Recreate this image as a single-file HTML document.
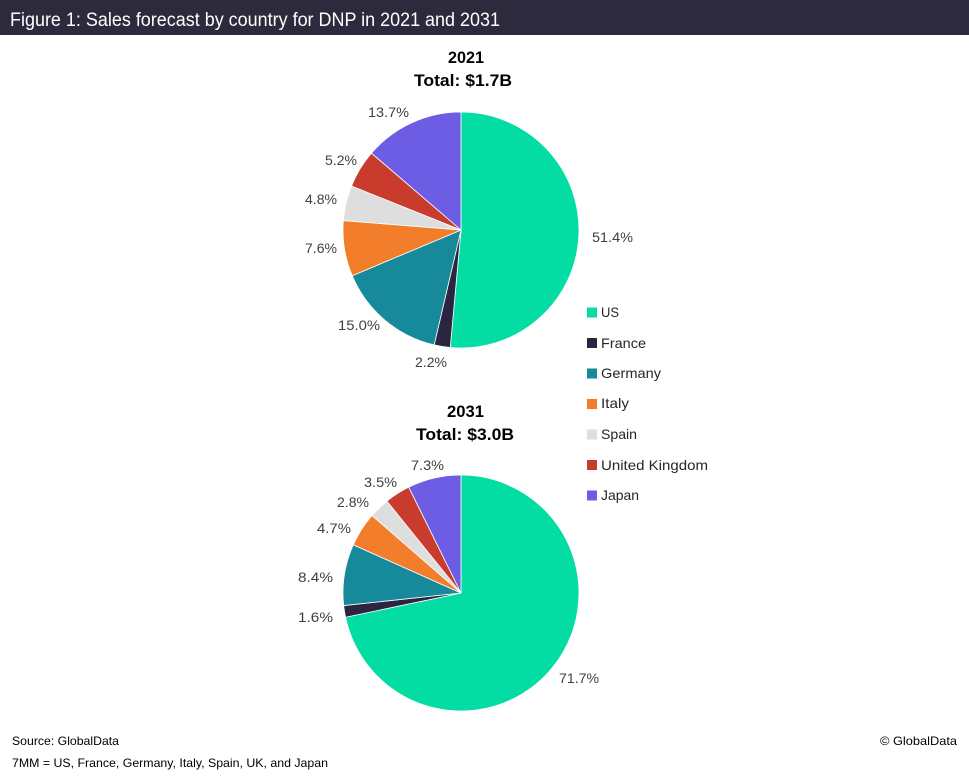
<!DOCTYPE html>
<html><head><meta charset="utf-8"><style>
html,body{margin:0;padding:0;background:#fff;}
svg{display:block;}
text{font-family:"Liberation Sans",sans-serif;}
</style></head><body>
<svg width="969" height="778" viewBox="0 0 969 778" xmlns="http://www.w3.org/2000/svg">
<rect x="0" y="0" width="969" height="778" fill="#fff"/>
<rect x="0" y="0" width="969" height="35" fill="#2E2A3E"/>
<text x="10" y="26" font-size="19" fill="#fff" textLength="490" lengthAdjust="spacingAndGlyphs">Figure 1: Sales forecast by country for DNP in 2021 and 2031</text>

<!-- 2021 titles -->
<text x="448" y="63" font-size="17" font-weight="bold" fill="#000" textLength="36" lengthAdjust="spacingAndGlyphs">2021</text>
<text x="414" y="86" font-size="17" font-weight="bold" fill="#000" textLength="98" lengthAdjust="spacingAndGlyphs">Total: $1.7B</text>

<!-- Pie 1 -->
<g stroke="#fff" stroke-width="0.8" stroke-linejoin="round">
<path d="M461,230 L461,112 A118,118 0 1 1 450.26,347.51 Z" fill="#03DDA3"/>
<path d="M461,230 L450.26,347.51 A118,118 0 0 1 434.15,344.91 Z" fill="#2A2540"/>
<path d="M461,230 L434.15,344.91 A118,118 0 0 1 352.21,275.71 Z" fill="#168A9A"/>
<path d="M461,230 L352.21,275.71 A118,118 0 0 1 343.38,220.56 Z" fill="#F27D2B"/>
<path d="M461,230 L343.38,220.56 A118,118 0 0 1 351.51,186.0 Z" fill="#DEDEDE"/>
<path d="M461,230 L351.51,186.0 A118,118 0 0 1 371.46,153.15 Z" fill="#C93B2C"/>
<path d="M461,230 L371.46,153.15 A118,118 0 0 1 461,112 Z" fill="#6D5DE4"/>
</g>
<g font-size="14" fill="#404040">
<text x="368" y="117" textLength="41" lengthAdjust="spacingAndGlyphs">13.7%</text>
<text x="325" y="165" textLength="32" lengthAdjust="spacingAndGlyphs">5.2%</text>
<text x="305" y="204" textLength="32" lengthAdjust="spacingAndGlyphs">4.8%</text>
<text x="305" y="253" textLength="32" lengthAdjust="spacingAndGlyphs">7.6%</text>
<text x="338" y="330" textLength="42" lengthAdjust="spacingAndGlyphs">15.0%</text>
<text x="415" y="367" textLength="32" lengthAdjust="spacingAndGlyphs">2.2%</text>
<text x="592" y="242" textLength="41" lengthAdjust="spacingAndGlyphs">51.4%</text>
</g>

<!-- Legend -->
<g font-size="14" fill="#262626">
<rect x="587" y="307.5" width="10" height="10" fill="#03DDA3"/>
<text x="601" y="317" textLength="18" lengthAdjust="spacingAndGlyphs">US</text>
<rect x="587" y="338" width="10" height="10" fill="#2A2540"/>
<text x="601" y="348" textLength="45" lengthAdjust="spacingAndGlyphs">France</text>
<rect x="587" y="368.5" width="10" height="10" fill="#168A9A"/>
<text x="601" y="378" textLength="60" lengthAdjust="spacingAndGlyphs">Germany</text>
<rect x="587" y="399" width="10" height="10" fill="#F27D2B"/>
<text x="601" y="408" textLength="28" lengthAdjust="spacingAndGlyphs">Italy</text>
<rect x="587" y="429.5" width="10" height="10" fill="#DEDEDE"/>
<text x="601" y="439" textLength="36" lengthAdjust="spacingAndGlyphs">Spain</text>
<rect x="587" y="460" width="10" height="10" fill="#C93B2C"/>
<text x="601" y="470" textLength="107" lengthAdjust="spacingAndGlyphs">United Kingdom</text>
<rect x="587" y="490.5" width="10" height="10" fill="#6D5DE4"/>
<text x="601" y="500" textLength="38" lengthAdjust="spacingAndGlyphs">Japan</text>
</g>

<!-- 2031 titles -->
<text x="447" y="417" font-size="17" font-weight="bold" fill="#000" textLength="37" lengthAdjust="spacingAndGlyphs">2031</text>
<text x="416" y="440" font-size="17" font-weight="bold" fill="#000" textLength="98" lengthAdjust="spacingAndGlyphs">Total: $3.0B</text>

<!-- Pie 2 -->
<g stroke="#fff" stroke-width="0.8" stroke-linejoin="round">
<path d="M461,593 L461,475 A118,118 0 1 1 345.53,617.29 Z" fill="#03DDA3"/>
<path d="M461,593 L345.53,617.29 A118,118 0 0 1 343.67,605.58 Z" fill="#2A2540"/>
<path d="M461,593 L343.67,605.58 A118,118 0 0 1 353.30,544.78 Z" fill="#168A9A"/>
<path d="M461,593 L353.30,544.78 A118,118 0 0 1 372.0,515.52 Z" fill="#F27D2B"/>
<path d="M461,593 L372.0,515.52 A118,118 0 0 1 386.93,501.14 Z" fill="#DEDEDE"/>
<path d="M461,593 L386.93,501.14 A118,118 0 0 1 408.75,487.2 Z" fill="#C93B2C"/>
<path d="M461,593 L408.75,487.2 A118,118 0 0 1 461,475 Z" fill="#6D5DE4"/>
</g>
<g font-size="14" fill="#404040">
<text x="411" y="470" textLength="33" lengthAdjust="spacingAndGlyphs">7.3%</text>
<text x="364" y="487" textLength="33" lengthAdjust="spacingAndGlyphs">3.5%</text>
<text x="337" y="507" textLength="32" lengthAdjust="spacingAndGlyphs">2.8%</text>
<text x="317" y="533" textLength="34" lengthAdjust="spacingAndGlyphs">4.7%</text>
<text x="298" y="582" textLength="35" lengthAdjust="spacingAndGlyphs">8.4%</text>
<text x="298" y="622" textLength="35" lengthAdjust="spacingAndGlyphs">1.6%</text>
<text x="559" y="683" textLength="40" lengthAdjust="spacingAndGlyphs">71.7%</text>
</g>

<!-- Footer -->
<g font-size="12" fill="#000">
<text x="12" y="745" textLength="107" lengthAdjust="spacingAndGlyphs">Source: GlobalData</text>
<text x="12" y="767" textLength="316" lengthAdjust="spacingAndGlyphs">7MM = US, France, Germany, Italy, Spain, UK, and Japan</text>
<text x="880" y="745" textLength="77" lengthAdjust="spacingAndGlyphs">© GlobalData</text>
</g>
</svg>
</body></html>
